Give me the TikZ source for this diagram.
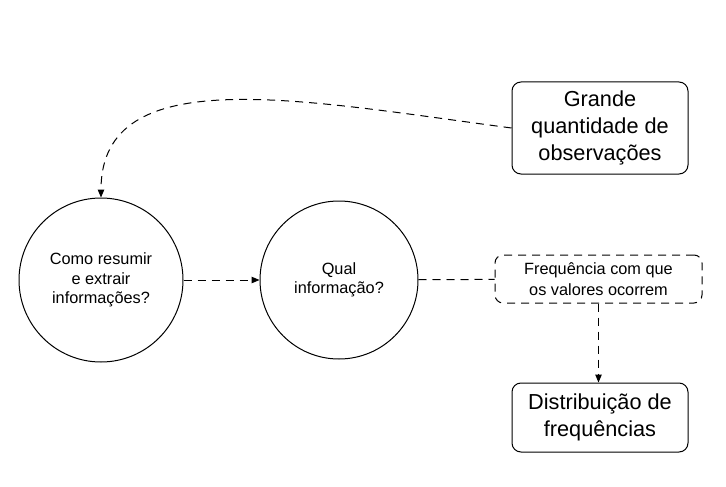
\documentclass[tikz,border=0pt]{standalone}
\usepackage{fontspec}
\setmainfont{Liberation Sans}
\usetikzlibrary{arrows.meta}
\begin{document}
\begin{tikzpicture}[x=1pt,y=-1pt,
  line width=1pt,
  dsh/.style={dash pattern=on 8pt off 6pt},
  tip/.style={-{Triangle[length=8pt,width=6.5pt]}},
  bigbox/.style={draw,rounded corners=9pt,align=center,inner sep=0pt,
    font=\fontsize{21.7}{27}\selectfont},
  circ/.style={draw,circle,align=center,inner sep=0pt,
    font=\fontsize{16.3}{19.5}\selectfont},
  dbox/.style={draw,dsh,rounded corners=8pt,align=center,inner sep=0pt,
    font=\fontsize{16.3}{20.5}\selectfont}]
\useasboundingbox (0,0) rectangle (726,487);
\node[bigbox,minimum width=176pt,minimum height=92pt] (obs) at (600,128)
  {Grande\\quantidade de\\observações};
\node[circ,minimum size=164pt] (c1) at (101,280)
  {Como resumir\\e extrair\\informações?};
\node[circ,minimum size=158pt] (c2) at (339,280)
  {Qual\\informação?};
\node[dbox,minimum width=207pt,minimum height=48pt] (freq) at (598.5,279)
  {Frequência com que\\os valores ocorrem};
\node[bigbox,minimum width=176pt,minimum height=69pt] (dist) at (600,417.5)
  {Distribuição de\\frequências};
\draw[dsh,tip] (obs.west) .. controls (300,100) and (101,60) .. (c1.north);
\draw[dsh,tip] (c1) -- (c2);
\draw[dsh] (c2) -- (freq);
\draw[dsh,tip] (freq.south) -- (freq.south |- dist.north);
\end{tikzpicture}
\end{document}
